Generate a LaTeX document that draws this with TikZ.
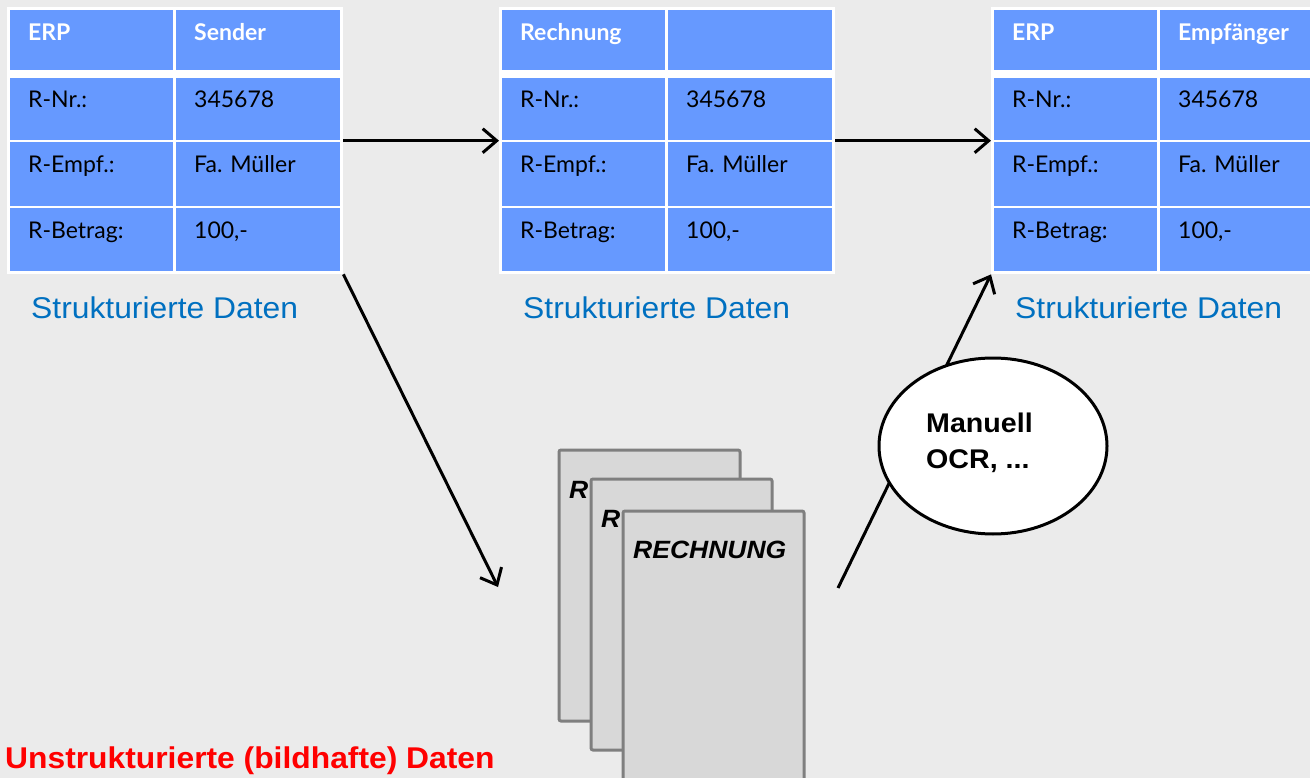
\documentclass[tikz,border=0pt]{standalone}
\usepackage{fontspec}
\setmainfont[FakeStretch=1.06]{Liberation Sans}
\newfontfamily\tabfont{Lato}
\usetikzlibrary{arrows.meta,shapes.geometric}

\definecolor{bgcol}{RGB}{235,235,235}
\definecolor{cellblue}{RGB}{102,153,255}
\definecolor{labelblue}{RGB}{0,112,192}
\definecolor{docfill}{RGB}{216,216,216}
\definecolor{docline}{RGB}{127,127,127}

% One ERP record: white frame, header row and three data rows, caption below
\newcommand{\erptable}[4]{%
  \node[tabframe, anchor=north west] (#1) at ({#2-3},7) {};
  \node[cellbox, minimum width=163pt, minimum height=60pt, anchor=north west] (#1-ha) at (#2,10) {};
  \node[cellbox, minimum width=164pt, minimum height=60pt, anchor=north west] (#1-hb) at ({#2+166},10) {};
  \node[headtext, anchor=base west] (#1-hat) at ({#2+18},41) {#3};
  \node[headtext, anchor=base west] (#1-hbt) at ({#2+184},41) {#4};
  \foreach \rowy/\rowh/\basey/\keytxt/\valtxt/\rid in
      {78/62/108/R-Nr.:/345678/n, 142/64/173/R-Empf.:/Fa. Müller/e, 208/63/239/R-Betrag:/{100,-}/b}{
    \node[cellbox, minimum width=163pt, minimum height=\rowh pt, anchor=north west] (#1-\rid a) at (#2,\rowy) {};
    \node[cellbox, minimum width=164pt, minimum height=\rowh pt, anchor=north west] (#1-\rid b) at ({#2+166},\rowy) {};
    \node[celltext, anchor=base west] (#1-\rid at) at ({#2+18},\basey) {\keytxt};
    \node[celltext, anchor=base west] (#1-\rid bt) at ({#2+184},\basey) {\valtxt};
  }
  \node[caption, anchor=base west] (#1-cap) at ({#2+21},318) {Strukturierte Daten};
}

\begin{document}
\begin{tikzpicture}[x=1pt,y=-1pt,
  tabframe/.style={rectangle, fill=white, inner sep=0pt, minimum width=336pt, minimum height=267pt},
  cellbox/.style={rectangle, fill=cellblue, inner sep=0pt},
  headtext/.style={inner sep=0pt, font=\tabfont\bfseries\fontsize{23}{27}\selectfont, text=white},
  celltext/.style={inner sep=0pt, font=\tabfont\fontsize{23}{27}\selectfont, text=black},
  caption/.style={inner sep=0pt, font=\fontsize{30}{36}\selectfont, text=labelblue},
  flow/.style={line width=3pt, -{Straight Barb[length=14pt,width=24pt]}},
  doc/.style={rectangle, rounded corners=2pt, fill=docfill, draw=docline, line width=3pt,
              inner sep=0pt, minimum width=181pt, minimum height=271pt},
  doctext/.style={inner sep=0pt, font=\bfseries\itshape\fontsize{25}{30}\selectfont},
  bubble/.style={ellipse, draw, line width=3pt, fill=white, minimum width=228pt,
                 minimum height=176pt, inner sep=0pt},
  bubbletext/.style={inner sep=0pt, align=left, font=\bfseries\fontsize{27}{36}\selectfont},
]
\useasboundingbox (0,0) rectangle (1310,778);
\clip (0,0) rectangle (1310,778);
\fill[bgcol] (0,0) rectangle (1310,778);

% structured records
\erptable{t1}{10}{ERP}{Sender}
\erptable{t2}{502}{Rechnung}{}
\erptable{t3}{994}{ERP}{Empfänger}

% stack of paper invoices, only the front one fully legible
\node[doc, anchor=north west] (doc1) at (557.5,448.5) {};
\node[doctext, anchor=base west] (doc1t) at (569,498) {R};
\node[doc, anchor=north west] (doc2) at (589.5,477.5) {};
\node[doctext, anchor=base west] (doc2t) at (601,527) {R};
\node[doc, anchor=north west] (doc3) at (621.5,509.5) {};
\node[doctext, anchor=base west] (doc3t) at (633,558) {RECHNUNG};

\node[inner sep=0pt, anchor=base west, text=red, font=\bfseries\fontsize{30}{36}\selectfont]
  (unstruct) at (5,768) {Unstrukturierte (bildhafte) Daten};

% data flows
\coordinate (scanin) at (498,587);
\coordinate (scanout) at (838,588);
\draw[flow] (t1.east) -- (t2.west);
\draw[flow] (t2.east) -- (t3.west);
\draw[flow] (t1.south east) -- (scanin);
\draw[flow] (scanout) -- (t3.south west);

% capture step
\node[bubble] (ocr) at (993,446) {};
\node[bubbletext, anchor=north west] (ocrtext) at (926,413) {Manuell\\OCR, ...};
\end{tikzpicture}
\end{document}
